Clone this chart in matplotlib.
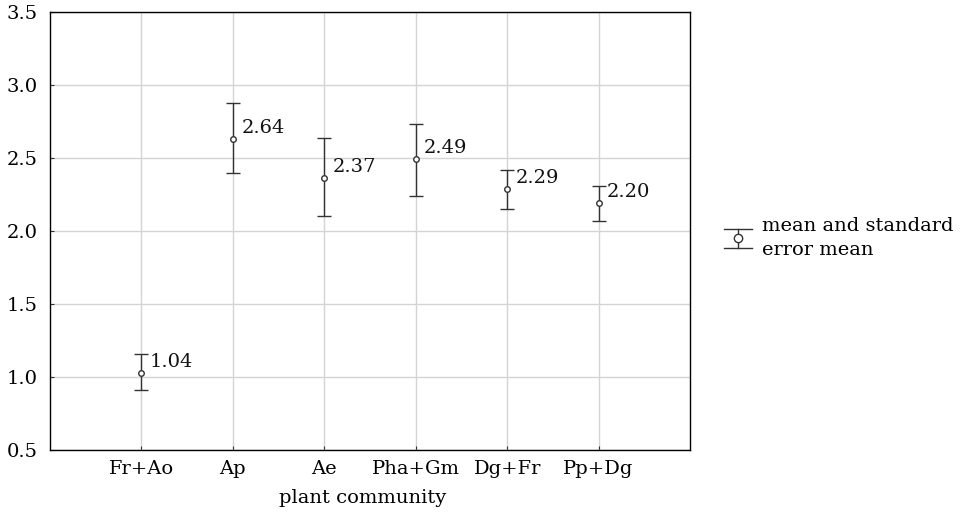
import matplotlib
matplotlib.use("Agg")
import matplotlib.pyplot as plt
from matplotlib.lines import Line2D
from matplotlib.legend_handler import HandlerBase

categories = ["Fr+Ao", "Ap", "Ae", "Pha+Gm", "Dg+Fr", "Pp+Dg"]
means = [1.03, 2.63, 2.36, 2.49, 2.29, 2.19]
upper = [1.16, 2.88, 2.64, 2.73, 2.42, 2.31]
lower = [0.91, 2.40, 2.10, 2.24, 2.15, 2.07]
labels = ["1.04", "2.64", "2.37", "2.49", "2.29", "2.20"]
yticks = [0.5, 1.0, 1.5, 2.0, 2.5, 3.0, 3.5]

FS = 14
plt.rcParams['font.family'] = ['DejaVu Serif']
fig = plt.figure(figsize=(9.61, 5.12), dpi=100)
ax = fig.add_axes([50/961, 62/512, 640/961, 438/512])

col = "#333333"
xs = list(range(1, len(categories) + 1))
err_lo = [m - l for m, l in zip(means, lower)]
err_hi = [u - m for m, u in zip(means, upper)]
eb = ax.errorbar(xs, means, yerr=[err_lo, err_hi], fmt='o', ms=4, mfc='white',
                 mec=col, mew=1.0, ecolor=col, elinewidth=1.0, capsize=5, capthick=1.0,
                 color=col, zorder=3)
for x, m, t in zip(xs, means, labels):
    ax.annotate(t, (x, m), xytext=(6, 8), textcoords='offset points',
                ha='left', va='center', fontsize=FS, color='#111111')

ax.set_xlim(0, 7)
ax.set_ylim(0.5, 3.5)
ax.set_xticks(xs)
ax.set_xticklabels(categories, fontsize=FS)
ax.set_yticks(yticks)
ax.set_yticklabels([f"{v:.1f}" for v in yticks], fontsize=FS)
ax.grid(True, color='#d4d4d4', linewidth=1.0)
ax.set_axisbelow(True)
ax.tick_params(direction='in', length=3, width=0.8, color='#333333')
ax.tick_params(axis='y', pad=9)
ax.tick_params(axis='x', pad=7)
for s in ax.spines.values():
    s.set_linewidth(1.0)
    s.set_color('black')
ax.set_xlabel("plant community", fontsize=FS)
ax.xaxis.set_label_coords(0.488, -0.088)


class MeanSEHandler(HandlerBase):
    def create_artists(self, legend, orig_handle, xdescent, ydescent, width, height, fontsize, trans):
        cx = width / 2 - xdescent
        cy = height / 2 - ydescent
        h = height * 0.7
        arts = [
            Line2D([-xdescent, width - xdescent], [cy + h, cy + h], color=col, lw=1.0),
            Line2D([-xdescent, width - xdescent], [cy - h, cy - h], color=col, lw=1.0),
            Line2D([cx, cx], [cy - h, cy + h], color=col, lw=1.0),
            Line2D([cx], [cy], marker='o', ms=6, mfc='white', mec=col, mew=1.0, ls='none'),
        ]
        for a in arts:
            a.set_transform(trans)
        return arts


leg = fig.legend([eb], ["mean and standard\nerror mean"], loc='center left',
                 bbox_to_anchor=(724/961, 0.535), frameon=False, fontsize=14,
                 handlelength=1.45, handletextpad=0.5, borderaxespad=0, borderpad=0,
                 handler_map={type(eb): MeanSEHandler()})
for t in leg.get_texts():
    t.set_linespacing(1.45)
fig.savefig("out.png", dpi=100)
